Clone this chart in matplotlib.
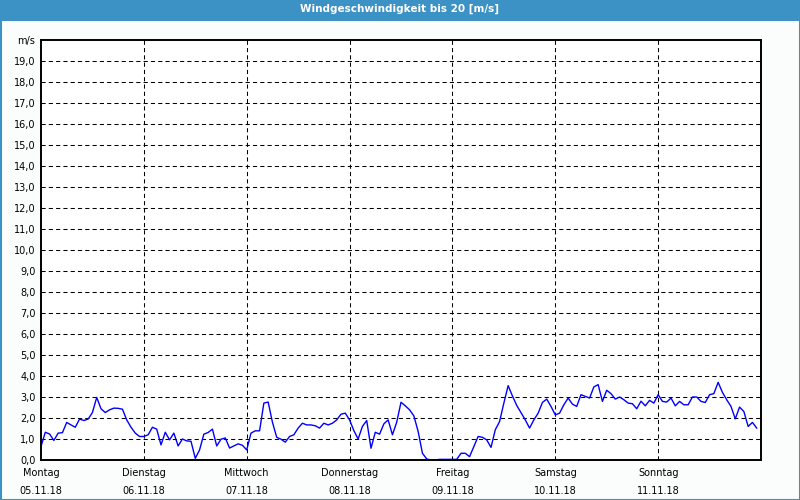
import numpy as np
import matplotlib
matplotlib.use("Agg")
import matplotlib.pyplot as plt
from matplotlib.patches import Rectangle

# hourly wind speed in m/s, Monday 05.11.18 00:00 onwards
wind_speed = [
    0.64, 1.32, 1.24, 0.93, 1.28, 1.30, 1.79, 1.67, 1.56, 1.95, 1.88, 1.95,
    2.26, 2.98, 2.44, 2.26, 2.39, 2.47, 2.46, 2.42, 1.91, 1.56, 1.28, 1.12,
    1.12, 1.20, 1.56, 1.47, 0.72, 1.32, 0.96, 1.28, 0.67, 1.00, 0.91, 0.89,
    0.08, 0.48, 1.23, 1.31, 1.47, 0.67, 0.99, 1.05, 0.57, 0.67, 0.77, 0.70,
    0.48, 1.28, 1.39, 1.39, 2.71, 2.76, 1.80, 1.08, 0.99, 0.85, 1.12, 1.20,
    1.52, 1.75, 1.67, 1.67, 1.63, 1.52, 1.75, 1.67, 1.75, 1.91, 2.18, 2.23,
    1.91, 1.40, 1.00, 1.60, 1.88, 0.56, 1.32, 1.23, 1.72, 1.91, 1.20, 1.80,
    2.75, 2.58, 2.39, 2.10, 1.36, 0.32, 0.05, 0.00, 0.00, 0.03, 0.03, 0.03,
    0.03, 0.03, 0.32, 0.32, 0.16, 0.64, 1.12, 1.08, 0.96, 0.60, 1.44, 1.83,
    2.71, 3.54, 3.05, 2.60, 2.25, 1.91, 1.52, 1.91, 2.23, 2.74, 2.90, 2.55,
    2.15, 2.23, 2.63, 2.95, 2.66, 2.55, 3.11, 3.03, 2.95, 3.48, 3.59, 2.79,
    3.32, 3.16, 2.90, 3.00, 2.87, 2.71, 2.68, 2.44, 2.80, 2.58, 2.84, 2.71,
    3.11, 2.79, 2.76, 2.95, 2.58, 2.79, 2.63, 2.63, 3.00, 3.00, 2.79, 2.74,
    3.11, 3.16, 3.70, 3.22, 2.87, 2.55, 1.96, 2.52, 2.31, 1.60, 1.79, 1.52,
]
day_names = ["Montag", "Dienstag", "Mittwoch", "Donnerstag", "Freitag", "Samstag", "Sonntag"]
day_dates = ["05.11.18", "06.11.18", "07.11.18", "08.11.18", "09.11.18", "10.11.18", "11.11.18"]
y_max = 20

hours = np.arange(len(wind_speed))
band = "#3c91c5"

fig = plt.figure(figsize=(8, 5), dpi=100, facecolor="#fbfdfd")
ax = fig.add_axes([41 / 800, 40 / 500, 720 / 800, 420 / 500])
ax.set_facecolor("white")

# title bar
fig.patches.append(Rectangle((0, 1 - 21 / 500), 1, 21 / 500, transform=fig.transFigure,
                             facecolor=band, edgecolor="none", zorder=0))
fig.text(0.5, 1 - 9 / 500, "Windgeschwindigkeit bis 20 [m/s]", color="white",
         ha="center", va="center", fontsize=7.5, fontweight="bold")
# thin blue frame around the picture
fig.patches.append(Rectangle((0.5 / 800, 0.5 / 500), 799 / 800, 499 / 500, transform=fig.transFigure,
                             facecolor="none", edgecolor=band, linewidth=1.5, zorder=5))

ax.plot(hours, wind_speed, color="#0000ff", linewidth=1.0)

ax.set_xlim(0, 168)
ax.set_ylim(0, y_max)

yt = np.arange(0, y_max + 1)
ax.set_yticks(yt)
ax.set_yticklabels([f"{v},0" for v in yt[:-1]] + ["m/s"], fontsize=7)
xt = np.arange(len(day_names)) * 24
ax.set_xticks(xt)
ax.set_xticklabels([f"{n}\n{d}" for n, d in zip(day_names, day_dates)],
                   fontsize=7, linespacing=1.9)
ax.tick_params(axis="both", length=0, pad=4)
ax.tick_params(axis="x", pad=6)

for v in yt[1:-1]:
    ax.axhline(v, color="black", linewidth=0.75, linestyle=(0, (4, 3)), zorder=1)
for d in xt[1:]:
    ax.axvline(d, color="black", linewidth=0.75, linestyle=(0, (4, 3)), zorder=1)

for s in ax.spines.values():
    s.set_linewidth(1.4)
    s.set_color("black")

fig.savefig("out.png", dpi=100, facecolor=fig.get_facecolor())
